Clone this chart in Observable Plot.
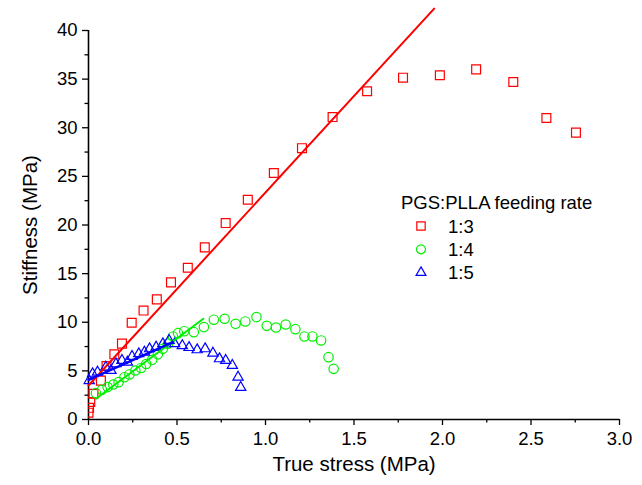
<!DOCTYPE html>
<html>
<head>
<meta charset="utf-8">
<script src="https://cdn.jsdelivr.net/npm/d3@7"></script>
<script src="https://cdn.jsdelivr.net/npm/@observablehq/plot@0.6"></script>
<style>
  html, body { margin: 0; padding: 0; background: #fff; }
  #wrap { position: relative; width: 642px; height: 485px; font-family: "Liberation Sans", Arial, sans-serif; }
  #legend { position: absolute; left: 0; top: 0; pointer-events: none; }
</style>
</head>
<body>
<div id="wrap"></div>
<script>
// ---- data ----
const seriesNames = ["1:3", "1:4", "1:5"];
const legendTitle = "PGS:PLLA feeding rate";
const xLabel = "True stress (MPa)";
const yLabel = "Stiffness (MPa)";

// 1:3 (red squares)
const x13 = [0.0, 0.003, 0.01, 0.028, 0.07, 0.102, 0.146, 0.189, 0.244, 0.311, 0.386, 0.466, 0.561, 0.657, 0.775, 0.90, 1.047, 1.206, 1.379, 1.574, 1.777, 1.985, 2.19, 2.40, 2.587, 2.754];
const y13 = [0.7, 1.2, 1.8, 2.64, 4.0, 5.5, 6.7, 7.8, 9.95, 11.2, 12.35, 14.1, 15.6, 17.7, 20.2, 22.6, 25.35, 27.9, 31.1, 33.75, 35.15, 35.4, 36.0, 34.7, 31.0, 29.5];

// 1:4 (green circles)
const x14 = [0.042, 0.076, 0.108, 0.14, 0.17, 0.203, 0.231, 0.265, 0.297, 0.326, 0.36, 0.392, 0.42, 0.449, 0.477, 0.506, 0.541, 0.595, 0.652, 0.708, 0.769, 0.831, 0.886, 0.949, 1.007, 1.059, 1.114, 1.169, 1.22, 1.265, 1.314, 1.356, 1.385];
const y14 = [2.71, 3.05, 3.33, 3.6, 3.84, 4.35, 4.63, 5.04, 5.3, 5.7, 6.14, 6.7, 7.27, 7.8, 8.54, 8.88, 9.08, 8.98, 9.5, 10.26, 10.36, 9.84, 10.08, 10.53, 9.64, 9.46, 9.77, 9.29, 8.54, 8.54, 8.13, 6.41, 5.21];

// 1:5 (blue triangles)
const x15 = [0.004, 0.023, 0.051, 0.098, 0.127, 0.155, 0.189, 0.22, 0.246, 0.284, 0.316, 0.345, 0.382, 0.42, 0.455, 0.487, 0.53, 0.568, 0.614, 0.659, 0.703, 0.74, 0.775, 0.8125, 0.845, 0.86];
const y15 = [4.0, 4.7, 4.87, 5.38, 5.04, 5.73, 6.07, 5.9, 6.48, 6.76, 6.92, 7.27, 7.44, 7.79, 8.13, 7.79, 7.6, 7.4, 7.17, 7.27, 6.82, 6.24, 6.07, 5.56, 4.35, 3.3];

// linear fits (end points)
const fitX13 = [0, 1.953], fitY13 = [3.5, 42.25];
const fitX14 = [0.042, 0.649], fitY14 = [2.13, 10.36];
const fitX15 = [0, 0.477], fitY15 = [4.08, 7.95];

// ticks
const xMajor = [0, 0.5, 1.0, 1.5, 2.0, 2.5, 3.0];
const xMinor = [0.25, 0.75, 1.25, 1.75, 2.25, 2.75];
const yMajor = [0, 5, 10, 15, 20, 25, 30, 35, 40];
const yMinor = [2.5, 7.5, 12.5, 17.5, 22.5, 27.5, 32.5, 37.5];

const colors = ["#ff0000", "#00f000", "#0000ff"];
const symbols = ["square", "circle", "triangle"];

const zip = (xs, ys) => xs.map((x, i) => ({x, y: ys[i]}));
const d13 = zip(x13, y13), d14 = zip(x14, y14), d15 = zip(x15, y15);
const f13 = zip(fitX13, fitY13), f14 = zip(fitX14, fitY14), f15 = zip(fitX15, fitY15);

const chart = Plot.plot({
  width: 642, height: 485,
  marginLeft: 88, marginRight: 23, marginTop: 30, marginBottom: 66,
  x: {domain: [0, 3]},
  y: {domain: [0, 40]},
  style: {fontFamily: "'Liberation Sans', Arial, sans-serif", fontSize: "18.5px", color: "#000", background: "transparent", overflow: "visible"},
  marks: [
    Plot.axisX({ticks: xMajor, tickSize: 6, tickPadding: 6, tickFormat: d => d.toFixed(1), label: null, stroke: "#000", strokeWidth: 1.3}),
    Plot.axisX({ticks: xMinor, tickSize: 3.5, tickFormat: () => "", label: null, stroke: "#000", strokeWidth: 1.3}),
    Plot.axisY({ticks: yMajor, tickSize: 6, tickPadding: 5, tickFormat: d => String(d), label: null, stroke: "#000", strokeWidth: 1.3}),
    Plot.axisY({ticks: yMinor, tickSize: 3.5, tickFormat: () => "", label: null, stroke: "#000", strokeWidth: 1.3}),
    Plot.ruleY([0], {x1: 0, x2: 3, stroke: "#000", strokeWidth: 1.6}),
    Plot.ruleX([0], {y1: 0, y2: 40, stroke: "#000", strokeWidth: 1.6}),
    Plot.text([xLabel], {frameAnchor: "bottom", dy: 51, fontSize: 20.5, textAnchor: "middle"}),
    Plot.text([yLabel], {frameAnchor: "left", dx: -58, rotate: -90, fontSize: 20.5, textAnchor: "middle"}),
    Plot.dot(d13, {x: "x", y: "y", symbol: "square", r: 5, stroke: colors[0], strokeWidth: 1.2, fill: "none", clip: true}),
    Plot.dot(d14, {x: "x", y: "y", symbol: "circle", r: 4.7, stroke: colors[1], strokeWidth: 1.2, fill: "none"}),
    Plot.dot(d15, {x: "x", y: "y", symbol: "triangle", r: 3.8, stroke: colors[2], strokeWidth: 1.2, fill: "none"}),
    Plot.line(f13, {x: "x", y: "y", stroke: colors[0], strokeWidth: 2}),
    Plot.line(f14, {x: "x", y: "y", stroke: colors[1], strokeWidth: 2}),
    Plot.line(f15, {x: "x", y: "y", stroke: colors[2], strokeWidth: 2.4})
  ]
});

const wrap = document.getElementById("wrap");
wrap.appendChild(chart);

// legend overlay
const lg = d3.select(wrap).append("svg")
  .attr("id", "legend").attr("width", 642).attr("height", 485)
  .style("font-family", "'Liberation Sans', Arial, sans-serif").style("font-size", "18.5px");
lg.append("text").attr("x", 401).attr("y", 208.5).text(legendTitle);
const symGen = {square: d3.symbolSquare, circle: d3.symbolCircle, triangle: d3.symbolTriangle};
const symSize = {square: 70, circle: 64, triangle: 42};
seriesNames.forEach((name, i) => {
  const cy = 226 + i * 23.3;
  lg.append("path")
    .attr("d", d3.symbol(symGen[symbols[i]], symSize[symbols[i]])())
    .attr("transform", `translate(421,${cy})`)
    .attr("fill", "none").attr("stroke", colors[i]).attr("stroke-width", 1.2);
  lg.append("text").attr("x", 448).attr("y", cy + 6.5).text(name);
});
</script>
</body>
</html>
